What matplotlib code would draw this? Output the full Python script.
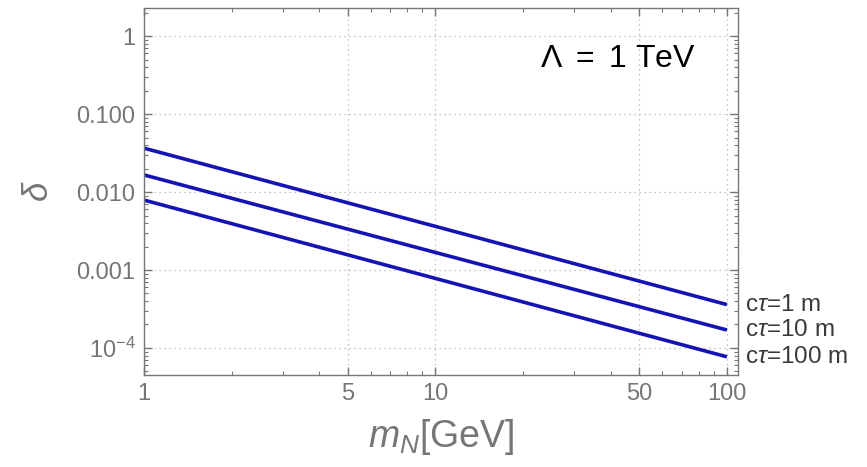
import numpy as np
import matplotlib.pyplot as plt
from matplotlib.ticker import FixedLocator, FixedFormatter, LogLocator, NullFormatter

plt.rcParams.update({'font.size': 16, 'font.family': 'Liberation Sans',
                     'mathtext.fontset': 'custom',
                     'mathtext.rm': 'Liberation Sans',
                     'mathtext.it': 'Liberation Sans:italic',
                     'mathtext.bf': 'Liberation Sans:bold'})

# Data (straight lines in log-log space)
mN = [1, 100]
delta_1m = [0.0366, 0.000360]
delta_10m = [0.0166, 0.000170]
delta_100m = [0.0079, 0.0000770]
curve_labels = ['c$\\tau$=1 m', 'c$\\tau$=10 m', 'c$\\tau$=100 m']

xticks = [1, 5, 10, 50, 100]
xticklabels = ['1', '5', '10', '50', '100']
yticks = [1, 0.1, 0.01, 0.001, 1e-4]
yticklabels = ['1', '0.100', '0.010', '0.001', '$10^{-4}$']

gray = '#767676'
blue = '#1414b4'

fig = plt.figure(figsize=(8.67, 4.67), dpi=100)
ax = fig.add_axes([0.166, 0.197, 0.685, 0.786])

for d, lab in zip([delta_1m, delta_10m, delta_100m], curve_labels):
    ax.plot(mN, d, color=blue, lw=2.6, solid_capstyle='butt')
    # label just right of the frame
    ax.text(1.012, d[-1], lab, transform=ax.get_yaxis_transform(),
            ha='left', va='center', fontsize=17.5, color='#3a3a3a')

ax.set_xscale('log')
ax.set_yscale('log')
ax.set_xlim(1, 109)
ax.set_ylim(4.5e-5, 2.3)

ax.xaxis.set_major_locator(FixedLocator(xticks))
ax.xaxis.set_major_formatter(FixedFormatter(xticklabels))
ax.xaxis.set_minor_locator(LogLocator(base=10, subs=np.arange(2, 10)))
ax.xaxis.set_minor_formatter(NullFormatter())
ax.yaxis.set_major_locator(FixedLocator(yticks))
ax.yaxis.set_major_formatter(FixedFormatter(yticklabels))
ax.yaxis.set_minor_locator(LogLocator(base=10, subs=np.arange(2, 10)))
ax.yaxis.set_minor_formatter(NullFormatter())

ax.tick_params(which='both', direction='in', top=True, right=True,
               color=gray, labelcolor=gray, labelsize=17)
ax.tick_params(which='major', length=6, width=1, pad=6)
ax.tick_params(which='minor', length=3, width=0.8)
for s in ax.spines.values():
    s.set_color(gray)
    s.set_linewidth(1)

ax.grid(True, which='major', ls=(0, (1, 3)), color='#b0b0b0', lw=0.9)

ax.text(0.667, 0.861, r'$\Lambda\ =\ 1$ TeV', transform=ax.transAxes,
        fontsize=23, color='black', va='center', ha='left')

ax.set_xlabel(r'$m_N$[GeV]', fontsize=27, color=gray)
ax.xaxis.set_label_coords(0.5, -0.115)
ax.set_ylabel(r'$\delta$', fontsize=25, color=gray)
ax.yaxis.set_label_coords(-0.15, 0.5)

plt.savefig('out.png', dpi=100)
